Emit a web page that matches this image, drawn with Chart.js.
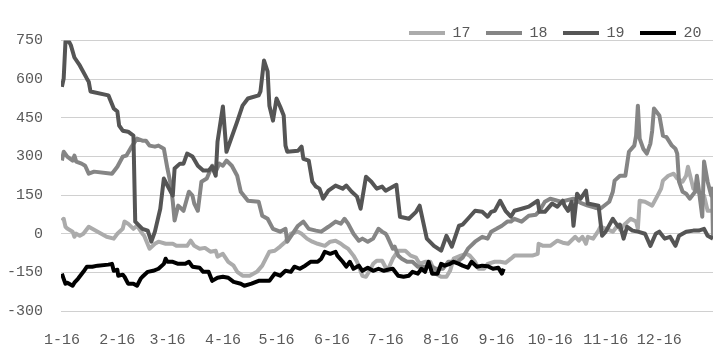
<!DOCTYPE html>
<html>
<head>
<meta charset="utf-8">
<script src="https://cdn.jsdelivr.net/npm/chart.js@4"></script>
<style>
html,body{margin:0;padding:0;background:#fff;}
#wrap{width:725px;height:356px;}
</style>
</head>
<body>
<div id="wrap"><canvas id="c" width="725" height="356"></canvas></div>
<script>
// Tick labels (month starts, day offsets from 1-16)
const monthDays = [0,31,59,90,120,151,181,212,243,273,304,334];
const monthLabels = ['1-16','2-16','3-16','4-16','5-16','6-16','7-16','8-16','9-16','10-16','11-16','12-16'];
const seriesNames = ['17','18','19','20'];

// Series 17
const days17 = [0,1,2,3,6,7,8,10,12,15,20,25,29,31,34,35,37,40,42,45,46,49,52,54,58,62,64,70,72,74,77,80,83,86,87,90,93,96,98,101,105,109,112,114,116,119,122,125,128,132,134,137,140,143,147,150,153,156,158,160,163,165,168,170,172,174,176,179,182,185,188,192,195,198,200,203,206,209,212,215,217,219,223,226,228,231,233,236,238,242,245,248,251,253,257,263,266,266.5,269,273,277,280,283,287,289,291,293,294,297,300,301,304,308,311,312,315,318,321,322,323,326,330,333,335,336,339,342,344,347,349,350,353,356,359,361,364];
const vals17 = [51,58,27,20,8,-12,0,-8,0,27,8,-12,-19,0,19,47,39,19,31,0,-8,-58,-39,-31,-39,-39,-47,-47,-27,-47,-58,-55,-70,-66,-89,-78,-109,-124,-148,-163,-163,-148,-124,-97,-70,-66,-50,-31,0,8,0,-19,-31,-39,-47,-31,-27,-39,-50,-58,-85,-109,-163,-167,-144,-117,-105,-105,-144,-97,-66,-66,-85,-93,-117,-109,-109,-155,-167,-167,-144,-97,-85,-78,-85,-109,-136,-136,-117,-109,-109,-113,-97,-85,-85,-85,-78,-39,-47,-47,-27,-35,-39,-12,-27,-12,-39,-12,-19,12,27,20,8,35,16,39,58,47,19,128,124,109,148,175,206,225,233,214,202,225,260,175,160,148,89,89];

// Series 18
const days18 = [0,1,3,6,7,8,11,13,15,18,28,31,34,36,39,42,45,47,49,52,54,57,59,61,62,63,65,68,71,73,74,76,78,81,84,86,88,90,92,95,98,100,104,110,112,115,118,122,125,126,129,132,135,138,142,145,149,153,156,158,160,163,166,168,171,174,177,179,181,182,185,186,188,190,193,196,199,203,206,209,213,216,221,224,227,231,235,238,240,243,246,249,251,253,257,261,265,267,270,273,279,286,290,294,298,301,306,308,309,312,315,317,320,321,322,323,325,327,329,330,331,334,336,338,341,343,344,345,347,349,351,354,355,356,358,359,361,363,363.5,364];
const vals18 = [284,318,299,284,303,280,272,264,233,241,233,260,299,303,338,369,361,361,342,338,342,330,253,187,124,51,109,89,163,148,117,89,202,214,264,241,272,264,284,264,225,163,128,124,70,58,19,8,19,-31,0,31,47,19,12,8,27,47,39,58,39,0,-27,-19,-31,-19,19,8,0,-12,-58,-50,-85,-97,-109,-109,-128,-128,-124,-136,-136,-109,-109,-93,-58,-31,-12,-19,8,19,31,47,47,58,47,70,74,89,124,136,124,136,120,109,101,97,124,163,206,225,225,318,342,381,497,369,330,311,350,400,486,459,381,375,342,330,311,202,163,155,136,163,225,175,66,280,202,148,175,-19];

// Series 19
const days19 = [0,1,2,4,5,7,10,14,15,16,26,29,31,32,34,37,40,41,45,48,50,52,55,57,59,62,63,66,68,70,73,76,79,82,84,86,87,90,92,98,101,104,110,111,113,115,116,118,120,122,124,125,126,132,134,135,138,140,142,144,146,149,153,157,159,162,165,167,170,173,176,179,181,187,189,194,198,200,204,208,212,215,218,222,224,227,231,235,238,240,242,245,248,251,253,257,261,266,267,270,274,277,280,281,283,285,286,288,290,293,294,300,302,304,308,311,312,314,316,319,322,326,329,332,334,337,340,343,345,349,353,356,359,361,364];
const vals19 = [570,602,746,745,732,684,653,602,590,552,537,486,474,420,400,396,381,47,19,12,-31,8,97,214,187,148,253,272,272,311,300,264,245,245,260,225,357,494,318,435,497,525,537,552,672,630,497,439,525,494,459,342,318,322,338,291,284,202,183,175,136,167,187,175,187,163,144,97,221,202,175,183,167,190,66,58,85,109,-19,-47,-66,-8,-50,31,35,58,89,85,66,85,89,128,89,66,89,97,105,128,85,85,117,105,128,109,89,124,31,155,136,167,117,109,-8,8,58,27,35,-19,27,12,8,0,-47,0,8,-19,-12,-47,-8,8,12,12,19,-8,-19];

// Series 20
const days20 = [0,1,2,3,6,7,9,12,14,17,20,26,28,29,31,31.5,34,35,37,40,42,44,45,48,51,54,57,58,59,62,65,69,71,73,77,79,82,84,87,90,93,96,100,102,106,110,114,116,119,122,125,128,130,133,136,139,143,145,147,150,153,154,157,159,161,163,166,168,171,174,177,180,182,185,188,191,194,196,199,201,203,205,207,210,212,214,217,219,222,224,227,229,232,235,238,241,244,246,247];
const vals20 = [-155,-175,-194,-190,-202,-190,-175,-148,-128,-128,-124,-120,-117,-144,-140,-163,-159,-167,-194,-194,-202,-175,-167,-148,-144,-136,-117,-97,-109,-109,-117,-117,-109,-128,-132,-148,-148,-183,-171,-167,-171,-187,-194,-202,-194,-183,-183,-183,-155,-163,-144,-148,-128,-136,-124,-109,-109,-97,-70,-78,-70,-85,-109,-128,-109,-136,-124,-144,-132,-144,-136,-144,-140,-136,-163,-167,-163,-148,-155,-136,-148,-109,-155,-155,-117,-124,-117,-109,-117,-124,-132,-109,-128,-124,-126,-136,-132,-155,-136];

const colors = ['#ababab','#858585','#555555','#000000'];
function pts(d, v){ return d.map((x,i)=>({x:x, y:v[i]})); }
const allDays = [days17, days18, days19, days20];
const allVals = [vals17, vals18, vals19, vals20];

const FONT = {family:'"Liberation Mono", "DejaVu Sans Mono", monospace', size:15};

const datasets = seriesNames.map((n,i)=>({
  label: n,
  data: pts(allDays[i], allVals[i]),
  borderColor: colors[i],
  backgroundColor: colors[i],
  borderWidth: 4,
  pointRadius: 0,
  tension: 0,
  borderJoinStyle: 'round',
  order: 4 - i
}));

const tweak = {
  id: 'tweak',
  afterLayout(chart){
    const lg = chart.legend;
    if (lg){ lg.top += 10; lg.bottom += 10; lg.right += 4; }
  }
};

new Chart(document.getElementById('c'), {
  type: 'line',
  data: { datasets },
  plugins: [tweak],
  options: {
    responsive: false,
    animation: false,
    layout: { padding: { top: 0, right: 12, bottom: 0, left: 0 } },
    plugins: {
      tooltip: { enabled: false },
      legend: {
        position: 'top',
        align: 'end',
        labels: {
          font: FONT,
          color: '#595959',
          boxWidth: 36,
          boxHeight: 4,
          padding: 15.5,
          sort: (a,b)=>a.datasetIndex-b.datasetIndex,
          generateLabels(chart){
            const items = Chart.defaults.plugins.legend.labels.generateLabels(chart);
            items.forEach(it=>{ it.lineWidth = 0; it.fillStyle = it.strokeStyle; });
            return items;
          }
        }
      }
    },
    scales: {
      x: {
        type: 'linear',
        min: -0.5,
        max: 364,
        grid: { display: false, drawTicks: false },
        border: { display: false },
        afterBuildTicks(scale){ scale.ticks = monthDays.map(v=>({value:v})); },
        afterFit(scale){ scale.height = 45; },
        ticks: {
          font: FONT,
          color: '#595959',
          padding: 20,
          maxRotation: 0,
          autoSkip: false,
          callback(v){ const k = monthDays.indexOf(v); return k>=0 ? monthLabels[k] : ''; }
        }
      },
      y: {
        min: -300,
        max: 750,
        grid: { color: '#d0d0d0', lineWidth: 1, drawTicks: false },
        border: { display: false },
        afterFit(scale){ scale.width = 61; },
        ticks: {
          stepSize: 150,
          font: FONT,
          color: '#595959',
          padding: 18
        }
      }
    }
  }
});
</script>
</body>
</html>
